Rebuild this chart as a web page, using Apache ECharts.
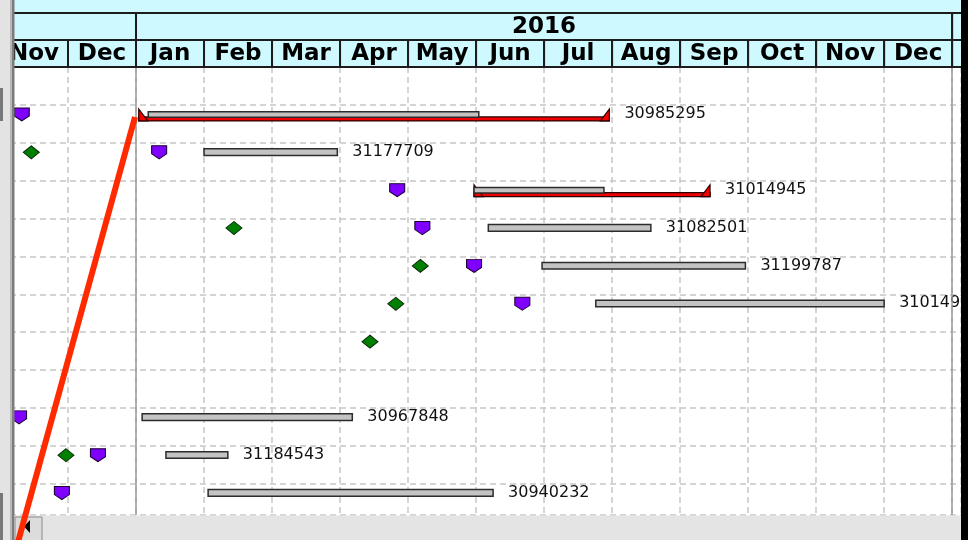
<!DOCTYPE html>
<html>
<head>
<meta charset="utf-8">
<script src="https://cdn.jsdelivr.net/npm/echarts@6/dist/echarts.min.js"></script>
<style>html,body{margin:0;padding:0;background:#fff;}#c{width:973px;height:540px;}</style>
</head>
<body>
<div id="c"></div>
<script>
// x values are in months relative to 1 Jan 2016 (0 = Jan 2016, 12 = Jan 2017)
const monthLabels = ['Nov','Dec','Jan','Feb','Mar','Apr','May','Jun','Jul','Aug','Sep','Oct','Nov','Dec','Jan'];
const monthFirst = -2;
const yearLabels = ['2015','2016','2017'];
const yearStarts = [-12, 0, 12];
const yearLines = [0, 12];

// current (grey) bars
const barRow   = [0, 1, 2, 3, 4, 5, 8, 9, 10];
const barStart = [0.18, 1.00, 4.97, 5.18, 5.97, 6.76, 0.09, 0.44, 1.06];
const barEnd   = [5.04, 2.96, 6.88, 7.57, 8.96, 11.00, 3.18, 1.35, 5.25];
const barLabel = ['30985295','31177709','31014945','31082501','31199787','31014950','30967848','31184543','30940232'];

// baseline (red) bars
const baseRow   = [0, 2];
const baseStart = [0.04, 4.97];
const baseEnd   = [6.96, 8.44];

// purple milestones
const purpleRow = [0, 1, 2, 3, 4, 5, 8, 9, 10];
const purpleX   = [-1.68, 0.34, 3.84, 4.21, 4.97, 5.68, -1.72, -0.56, -1.09];

// green milestones
const greenRow = [1, 3, 4, 5, 6, 9];
const greenX   = [-1.54, 1.44, 4.18, 3.82, 3.44, -1.03];

const FONT = '"DejaVu Sans", Verdana, sans-serif';
const CYAN = '#cdf9ff';

const headerData = [];
monthLabels.forEach((m, i) => headerData.push([monthFirst + i, monthFirst + i + 1, 1, m]));
yearLabels.forEach((y, i) => headerData.push([yearStarts[i], yearStarts[i] + 12, 0, y]));

const barData = barRow.map((r, i) => [r, barStart[i], barEnd[i], baseRow.indexOf(r) >= 0 ? 1 : 0]);
const baseData = baseRow.map((r, i) => [r, baseStart[i], baseEnd[i]]);
const labelData = barRow.map((r, i) => {
  const bi = baseRow.indexOf(r);
  const e = bi >= 0 ? Math.max(barEnd[i], baseEnd[bi]) : barEnd[i];
  return [r, e, barLabel[i]];
});

const chart = echarts.init(document.getElementById('c'), null, {renderer: 'canvas'});
const dashed = {show: true, lineStyle: {type: [6, 4], color: '#c6c6c6', width: 1.5}};

chart.setOption({
  animation: false,
  backgroundColor: '#fff',
  grid: {left: 0, right: 12, top: 67.1, bottom: 25, outerBoundsMode: 'none'},
  xAxis: {type: 'value', min: -2, max: 12.13, interval: 1,
    axisLine: {show: false}, axisTick: {show: false}, axisLabel: {show: false}, splitLine: dashed},
  yAxis: {type: 'value', inverse: true, min: -1, max: 10.83, interval: 1,
    axisLine: {show: false}, axisTick: {show: false}, axisLabel: {show: false}, splitLine: dashed},
  graphic: [
    {type: 'rect', z: -1, shape: {x: 0, y: 0, width: 973, height: 67}, style: {fill: CYAN}},
    // left panel
    {type: 'rect', z: 100, shape: {x: 0, y: 0, width: 12, height: 540}, style: {fill: '#e3e3e3'}},
    {type: 'rect', z: 100, shape: {x: 0, y: 88, width: 3, height: 33}, style: {fill: '#777'}},
    {type: 'rect', z: 100, shape: {x: 0, y: 493, width: 3, height: 47}, style: {fill: '#777'}},
    {type: 'rect', z: 100, shape: {x: 10, y: 0, width: 2, height: 540}, style: {fill: '#b8b8b8'}},
    {type: 'rect', z: 100, shape: {x: 12, y: 0, width: 2.5, height: 540}, style: {fill: '#7c7c7c'}},
    // bottom scroll bar
    {type: 'rect', z: 100, shape: {x: 14.5, y: 515.5, width: 947, height: 25}, style: {fill: '#e4e4e4'}},
    {type: 'rect', z: 101, shape: {x: 15, y: 517, width: 27, height: 24}, style: {fill: '#dcdcdc', stroke: '#8a8a8a', lineWidth: 1}},
    {type: 'polygon', z: 102, shape: {points: [[30, 520], [30, 533], [24, 526.5]]}, style: {fill: '#000'}},
    // right edge
    {type: 'rect', z: 100, shape: {x: 961, y: 0, width: 7, height: 540}, style: {fill: '#000'}},
    {type: 'rect', z: 100, shape: {x: 968, y: 0, width: 5, height: 540}, style: {fill: '#fff'}},
    // red annotation stroke
    {type: 'line', z: 110, shape: {x1: 135, y1: 117, x2: 18, y2: 542}, style: {stroke: '#ff2a00', lineWidth: 6}}
  ],
  series: [
    {
      type: 'custom', name: 'header', clip: false, z: 5,
      data: headerData,
      encode: {x: [0, 1], y: 2},
      renderItem: function (params, api) {
        const x0 = api.coord([api.value(0), 0])[0];
        const x1 = api.coord([api.value(1), 0])[0];
        const tier = api.value(2);
        const top = tier === 0 ? 13 : 40;
        const h = 27;
        return {
          type: 'group',
          children: [
            {type: 'rect', shape: {x: x0, y: top, width: x1 - x0, height: h},
              style: {fill: CYAN, stroke: '#1c1c1c', lineWidth: 2}},
            {type: 'text', style: {text: api.value(3), x: (x0 + x1) / 2, y: top + h / 2 + 1,
              align: 'center', verticalAlign: 'middle', textAlign: 'center', textVerticalAlign: 'middle',
              font: 'bold 23px ' + FONT, fill: '#000'}}
          ]
        };
      }
    },
    {
      type: 'custom', name: 'baseline', z: 3,
      data: baseData,
      encode: {x: [1, 2], y: 0},
      renderItem: function (params, api) {
        const r = api.value(0);
        const p0 = api.coord([api.value(1), r]);
        const p1 = api.coord([api.value(2), r]);
        const y = p0[1];
        const st = {fill: '#f00000', stroke: '#2a0000', lineWidth: 1.2};
        return {
          type: 'group',
          children: [
            {type: 'rect', shape: {x: p0[0], y: y + 12, width: p1[0] - p0[0], height: 4}, style: st},
            {type: 'polygon', shape: {points: [[p0[0], y + 4], [p0[0], y + 16], [p0[0] + 9, y + 16]]}, style: st},
            {type: 'polygon', shape: {points: [[p1[0], y + 4], [p1[0], y + 16], [p1[0] - 9, y + 16]]}, style: st}
          ]
        };
      }
    },
    {
      type: 'custom', name: 'bars', z: 4,
      data: barData,
      encode: {x: [1, 2], y: 0},
      renderItem: function (params, api) {
        const r = api.value(0);
        const p0 = api.coord([api.value(1), r]);
        const p1 = api.coord([api.value(2), r]);
        const hasBase = api.value(3) === 1;
        const top = p0[1] + (hasBase ? 6.8 : 6);
        const h = hasBase ? 5.4 : 6.6;
        return {type: 'rect', shape: {x: p0[0], y: top, width: p1[0] - p0[0], height: h},
          style: {fill: '#c3c3c3', stroke: '#2c2c2c', lineWidth: 1.5}};
      },
      markLine: {
        silent: true, symbol: 'none', label: {show: false},
        lineStyle: {type: 'solid', color: '#9a9a9a', width: 1.5},
        data: yearLines.map(v => ({xAxis: v}))
      }
    },
    {
      type: 'custom', name: 'labels', z: 4,
      data: labelData,
      encode: {x: 1, y: 0},
      renderItem: function (params, api) {
        const p = api.coord([api.value(1), api.value(0)]);
        return {type: 'text', style: {text: api.value(2), x: p[0] + 15, y: p[1] + 9,
          align: 'left', verticalAlign: 'middle', textAlign: 'left', textVerticalAlign: 'middle',
          font: '16px ' + FONT, fill: '#111'}};
      }
    },
    {
      type: 'scatter', name: 'purple', z: 6,
      symbol: 'path://M0,0 L15,0 L15,8 L7.5,13 L0,8 Z',
      symbolSize: [15, 13], symbolOffset: [0, 9.5],
      itemStyle: {color: '#8000ff', borderColor: '#1a0033', borderWidth: 1, opacity: 1},
      data: purpleRow.map((r, i) => [purpleX[i], r])
    },
    {
      type: 'scatter', name: 'green', z: 6,
      symbol: 'diamond', symbolSize: [16, 13], symbolOffset: [0, 9.5],
      itemStyle: {color: '#008000', borderColor: '#0b2a0b', borderWidth: 1, opacity: 1},
      data: greenRow.map((r, i) => [greenX[i], r])
    }
  ]
});
</script>
</body>
</html>
